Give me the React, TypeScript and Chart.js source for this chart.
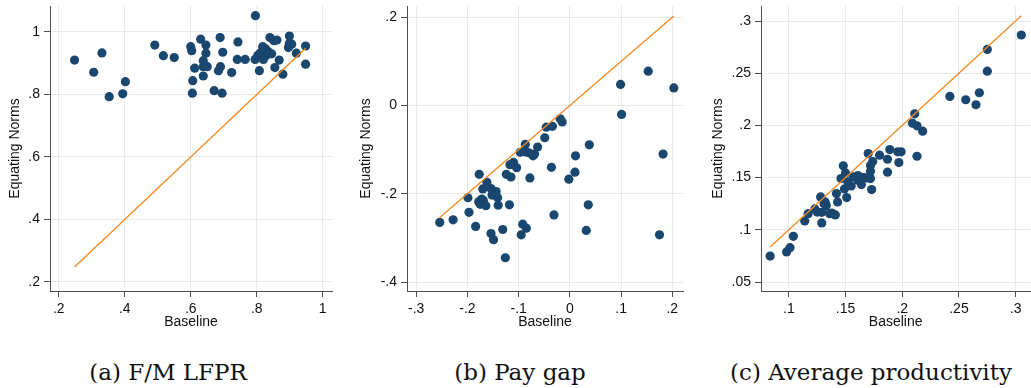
import React, { useEffect, useRef } from "react";
import { Chart, registerables } from "chart.js";

Chart.register(...registerables);

// (a) Female/male labour-force participation ratio
const lfprBaseline = [
  0.248, 0.306, 0.331, 0.353, 0.394, 0.402, 0.491, 0.517, 0.55, 0.6, 0.603, 0.605, 0.606, 0.612,
  0.63, 0.638, 0.638, 0.638, 0.646, 0.646, 0.65, 0.671, 0.684, 0.689, 0.69, 0.695, 0.697, 0.724,
  0.741, 0.743, 0.765, 0.795, 0.796, 0.803, 0.808, 0.81, 0.818, 0.82, 0.822, 0.826, 0.828, 0.835,
  0.84, 0.845, 0.852, 0.855, 0.861, 0.868, 0.879, 0.896, 0.899, 0.899, 0.906, 0.92, 0.948, 0.948,
];
const lfprNorms = [
  0.91, 0.871, 0.933, 0.793, 0.802, 0.841, 0.958, 0.924, 0.918, 0.953, 0.94, 0.804, 0.844, 0.884,
  0.977, 0.908, 0.889, 0.859, 0.958, 0.932, 0.889, 0.812, 0.876, 0.982, 0.889, 0.804, 0.935, 0.87,
  0.912, 0.968, 0.912, 0.912, 1.052, 0.925, 0.876, 0.932, 0.953, 0.912, 0.937, 0.947, 0.924, 0.937,
  0.982, 0.93, 0.972, 0.886, 0.974, 0.91, 0.865, 0.95, 0.987, 0.964, 0.961, 0.932, 0.955, 0.897,
];

// (b) Gender pay gap
const payBaseline = [
  -0.254, -0.228, -0.199, -0.197, -0.184, -0.177, -0.178, -0.175, -0.172, -0.17, -0.169, -0.164,
  -0.162, -0.154, -0.152, -0.149, -0.144, -0.141, -0.14, -0.154, -0.149, -0.131, -0.126, -0.124,
  -0.118, -0.115, -0.117, -0.11, -0.104, -0.097, -0.095, -0.092, -0.085, -0.087, -0.087, -0.08,
  -0.078, -0.072, -0.069, -0.063, -0.049, -0.046, -0.036, -0.034, -0.031, -0.019, -0.015, -0.002,
  0.01, 0.011, 0.032, 0.036, 0.038, 0.099, 0.101, 0.153, 0.175, 0.182, 0.203,
];
const payNorms = [
  -0.265, -0.259, -0.209, -0.242, -0.274, -0.156, -0.218, -0.224, -0.212, -0.189, -0.215, -0.227,
  -0.174, -0.188, -0.203, -0.199, -0.195, -0.209, -0.226, -0.29, -0.304, -0.281, -0.345, -0.156,
  -0.225, -0.162, -0.134, -0.129, -0.141, -0.106, -0.293, -0.269, -0.278, -0.088, -0.105, -0.107,
  -0.164, -0.114, -0.11, -0.094, -0.073, -0.049, -0.14, -0.047, -0.248, -0.03, -0.037, -0.167,
  -0.151, -0.114, -0.283, -0.225, -0.089, 0.048, -0.02, 0.078, -0.293, -0.11, 0.04,
];

// (c) Average productivity
const prodBaseline = [
  0.0835, 0.098, 0.101, 0.104, 0.114, 0.117, 0.123, 0.125, 0.128, 0.129, 0.129, 0.131, 0.132,
  0.133, 0.136, 0.138, 0.141, 0.142, 0.143, 0.146, 0.148, 0.149, 0.15, 0.151, 0.152, 0.155, 0.157,
  0.161, 0.161, 0.164, 0.166, 0.17, 0.169, 0.172, 0.172, 0.172, 0.173, 0.174, 0.18, 0.187, 0.187,
  0.189, 0.196, 0.199, 0.197, 0.209, 0.211, 0.213, 0.213, 0.218, 0.242, 0.256, 0.265, 0.268, 0.275,
  0.275, 0.305,
];
const prodNorms = [
  0.0749, 0.0788, 0.0829, 0.0938, 0.1085, 0.1155, 0.12, 0.117, 0.1315, 0.1066, 0.1168, 0.125,
  0.1267, 0.1232, 0.1155, 0.116, 0.1143, 0.1347, 0.1267, 0.1491, 0.1613, 0.1392, 0.1545, 0.1309,
  0.1459, 0.142, 0.1507, 0.1475, 0.152, 0.1433, 0.15, 0.173, 0.1497, 0.1616, 0.156, 0.1491, 0.1386,
  0.1654, 0.1715, 0.1676, 0.1552, 0.1769, 0.1747, 0.1747, 0.1644, 0.2022, 0.2111, 0.1996, 0.1705,
  0.1945, 0.2278, 0.2246, 0.2198, 0.2313, 0.2728, 0.252, 0.2866,
];

const lfprXTicks = [0.2, 0.4, 0.6, 0.8, 1];
const lfprYTicks = [0.2, 0.4, 0.6, 0.8, 1];
const payXTicks = [-0.3, -0.2, -0.1, 0, 0.1, 0.2];
const payYTicks = [-0.4, -0.2, 0, 0.2];
const prodXTicks = [0.1, 0.15, 0.2, 0.25, 0.3];
const prodYTicks = [0.05, 0.1, 0.15, 0.2, 0.25, 0.3];

const captions = ["(a) F/M LFPR", "(b) Pay gap", "(c) Average productivity"];
const xTitle = "Baseline";
const yTitle = "Equating Norms";

const NAVY = "#1a476f";
const ORANGE = "#f5891f";
const GRID = "#e9e9e9";
const AXIS = "#4d4d4d";
const TEXT = "#111111";
const SANS = "'Liberation Sans', Arial, sans-serif";

// Stata-style number labels: ".2", "-.3", "0", "1"
function stataFmt(v: number): string {
  const s = parseFloat(v.toFixed(4)).toString();
  return s.replace(/^0\./, ".").replace(/^-0\./, "-.");
}

type PanelSpec = {
  xs: number[];
  ys: number[];
  xTicks: number[];
  yTicks: number[];
  xMin: number;
  xMax: number;
  yMin: number;
  yMax: number;
  yAxisWidth: number;
  padRight: number;
  yTitlePad: number;
};

const TOP = 6;
const X_AXIS_HEIGHT = 49;

function buildChart(canvas: HTMLCanvasElement, p: PanelSpec): Chart {
  const points = p.xs.map((x, i) => ({ x, y: p.ys[i] }));
  const lo = Math.min(...p.xs);
  const hi = Math.max(...p.xs);
  const font = { family: SANS, size: 14 };
  const zeroPad = (s: any) => {
    s.paddingLeft = 0;
    s.paddingRight = 0;
    s.paddingTop = 0;
    s.paddingBottom = 0;
  };
  return new Chart(canvas, {
    type: "scatter",
    data: {
      datasets: [
        {
          data: [
            { x: lo, y: lo },
            { x: hi, y: hi },
          ],
          showLine: true,
          borderColor: ORANGE,
          borderWidth: 1.3,
          pointRadius: 0,
          order: 0,
        },
        {
          data: points,
          backgroundColor: NAVY,
          borderWidth: 0,
          pointRadius: 4.6,
          order: 1,
        },
      ],
    },
    options: {
      animation: false,
      responsive: false,
      devicePixelRatio: 1,
      layout: { padding: { left: 0, top: TOP, right: p.padRight, bottom: 0 } },
      plugins: { legend: { display: false }, tooltip: { enabled: false } },
      scales: {
        x: {
          type: "linear",
          min: p.xMin,
          max: p.xMax,
          afterBuildTicks: (s: any) => {
            s.ticks = p.xTicks.map((v) => ({ value: v }));
          },
          afterFit: (s: any) => {
            s.height = X_AXIS_HEIGHT;
            zeroPad(s);
          },
          grid: { color: GRID, lineWidth: 1, drawTicks: true, tickLength: 6, tickColor: AXIS },
          border: { display: true, color: AXIS, width: 1 },
          ticks: {
            autoSkip: false,
            maxRotation: 0,
            padding: 4,
            color: TEXT,
            font,
            callback: (v: any) => stataFmt(Number(v)),
          },
          title: {
            display: true,
            text: xTitle,
            color: TEXT,
            font,
            padding: { top: 0, bottom: 9 },
          },
        },
        y: {
          type: "linear",
          min: p.yMin,
          max: p.yMax,
          afterBuildTicks: (s: any) => {
            s.ticks = p.yTicks.map((v) => ({ value: v }));
          },
          afterFit: (s: any) => {
            s.width = p.yAxisWidth;
            zeroPad(s);
          },
          grid: { color: GRID, lineWidth: 1, drawTicks: true, tickLength: 6, tickColor: AXIS },
          border: { display: true, color: AXIS, width: 1 },
          ticks: {
            autoSkip: false,
            padding: 4,
            color: TEXT,
            font,
            callback: (v: any) => stataFmt(Number(v)),
          },
          title: {
            display: true,
            text: yTitle,
            color: TEXT,
            font,
            padding: { top: p.yTitlePad, bottom: 0 },
          },
        },
      },
    },
  } as any);
}

const panels: { left: number; width: number; spec: PanelSpec; captionX: number }[] = [
  {
    left: 0,
    width: 340,
    captionX: 168,
    spec: {
      xs: lfprBaseline,
      ys: lfprNorms,
      xTicks: lfprXTicks,
      yTicks: lfprYTicks,
      xMin: 0.1736,
      xMax: 1.028,
      yMin: 0.1712,
      yMax: 1.083,
      yAxisWidth: 50,
      padRight: 8,
      yTitlePad: 7,
    },
  },
  {
    left: 340,
    width: 350,
    captionX: 520,
    spec: {
      xs: payBaseline,
      ys: payNorms,
      xTicks: payXTicks,
      yTicks: payYTicks,
      xMin: -0.318,
      xMax: 0.2209,
      yMin: -0.4204,
      yMax: 0.2257,
      yAxisWidth: 67,
      padRight: 7,
      yTitlePad: 18,
    },
  },
  {
    left: 690,
    width: 345,
    captionX: 871,
    spec: {
      xs: prodBaseline,
      ys: prodNorms,
      xTicks: prodXTicks,
      yTicks: prodYTicks,
      xMin: 0.07545,
      xMax: 0.313,
      yMin: 0.0414,
      yMax: 0.3144,
      yAxisWidth: 71,
      padRight: 0,
      yTitlePad: 20,
    },
  },
];

export default function App() {
  const refs = [useRef<HTMLCanvasElement>(null), useRef<HTMLCanvasElement>(null), useRef<HTMLCanvasElement>(null)];

  useEffect(() => {
    const charts = panels.map((p, i) => buildChart(refs[i].current as HTMLCanvasElement, p.spec));
    return () => charts.forEach((c) => c.destroy());
  }, []);

  return (
    <div
      style={{
        position: "absolute",
        left: 0,
        top: 0,
        width: 1031,
        height: 388,
        overflow: "hidden",
        background: "#ffffff",
      }}
    >
      {panels.map((p, i) => (
        <canvas
          key={i}
          ref={refs[i]}
          width={p.width}
          height={340}
          style={{ position: "absolute", left: p.left, top: 0, width: p.width, height: 340 }}
        />
      ))}
      {panels.map((p, i) => (
        <div
          key={"c" + i}
          style={{
            position: "absolute",
            left: p.captionX,
            top: 359,
            transform: "translateX(-50%)",
            whiteSpace: "nowrap",
            fontFamily: "'DejaVu Serif', serif",
            fontSize: 23,
            lineHeight: "26px",
            color: "#111",
          }}
        >
          {captions[i]}
        </div>
      ))}
    </div>
  );
}
